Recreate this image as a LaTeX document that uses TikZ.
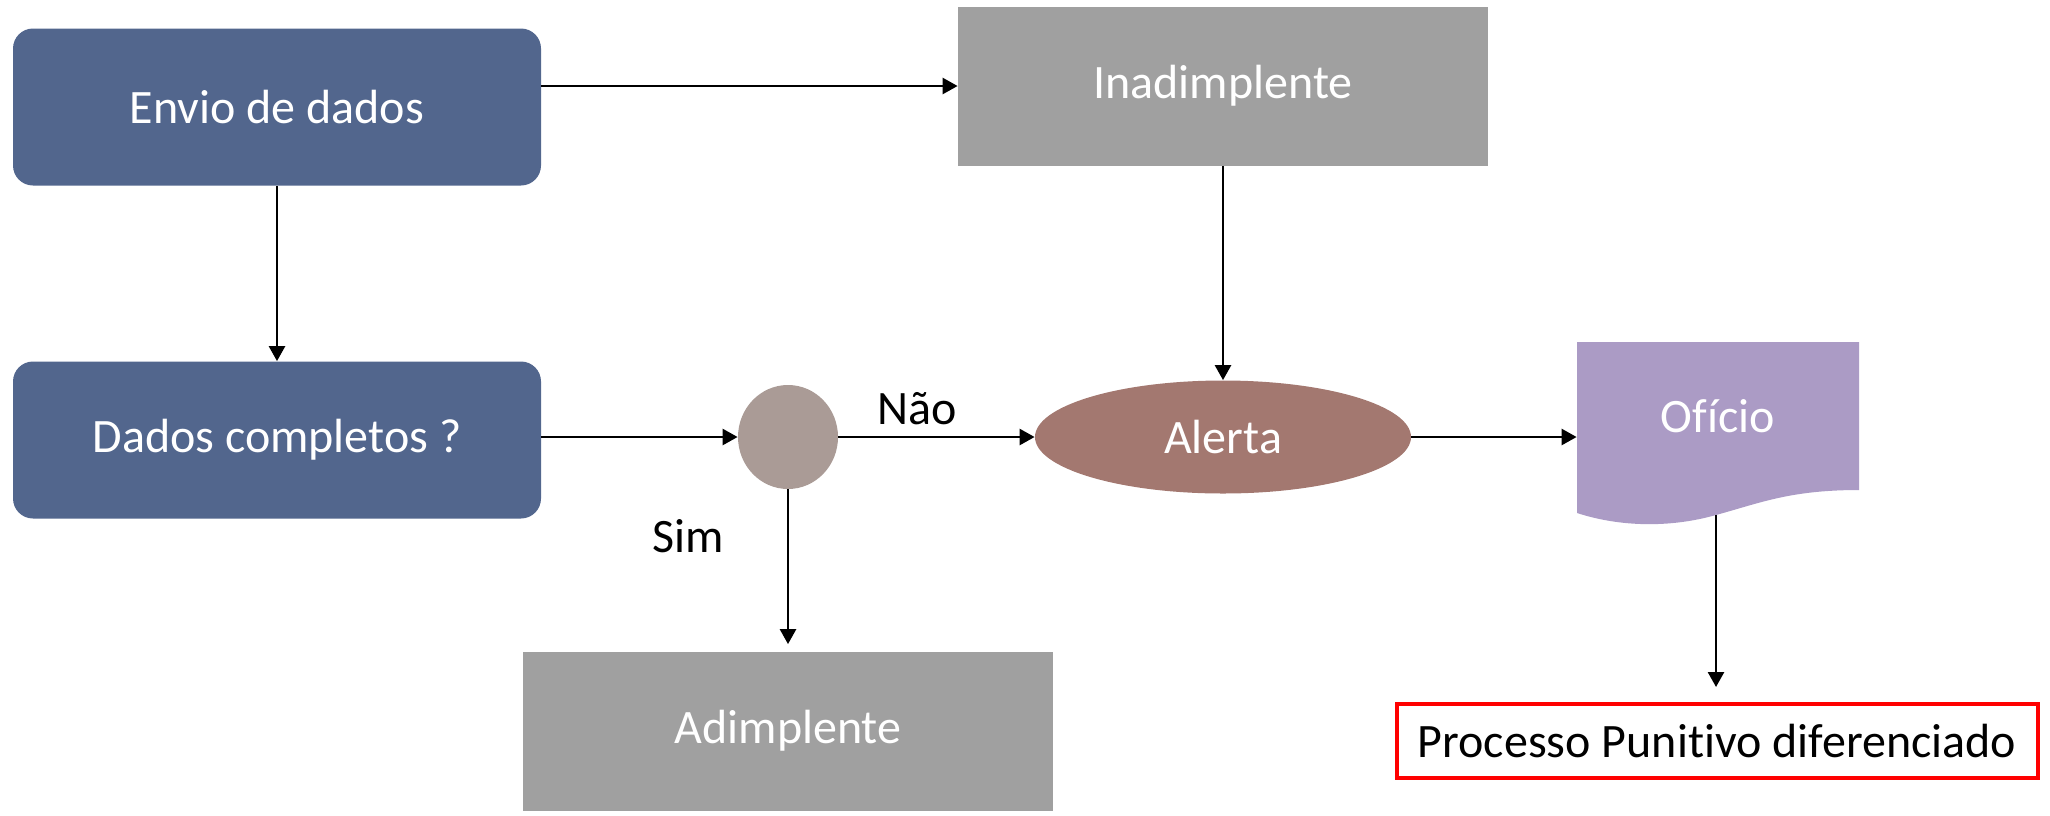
\documentclass[tikz,border=0pt]{standalone}
\usepackage{fontspec}
\setmainfont{Carlito}[Ligatures=NoCommon]
\usetikzlibrary{arrows.meta,positioning,shapes.geometric}
\definecolor{boxblue}{RGB}{82,102,141}
\definecolor{boxgray}{RGB}{160,160,160}
\definecolor{decgray}{RGB}{170,155,150}
\definecolor{alertred}{RGB}{163,120,112}
\definecolor{ofpurple}{RGB}{171,155,197}

\begin{document}
\begin{tikzpicture}[x=0.5pt,y=-0.5pt,
      font=\fontsize{24}{29}\selectfont,
      bluebox/.style={fill=boxblue,rounded corners=10pt,text=white,minimum width=264pt,minimum height=78.5pt},
      graybox/.style={fill=boxgray,text=white,minimum width=265pt,minimum height=79.5pt},
      flow/.style={->,line width=1.3pt},
      >={Triangle[length=7.5pt,width=8pt]}
    ]
      \useasboundingbox (0,0) rectangle (2050,815);
      \node[bluebox] (envio) at (277,107) {Envio de dados};
      \node[bluebox] (dados) at (277,440) {Dados completos ?};
      \node[graybox] (inad) at (1223,86) {Inadimplente};
      \node[graybox] (adim) at (788,731) {Adimplente};
      \node[ellipse,fill=decgray,minimum width=50pt,minimum height=52pt,inner sep=0pt] (dec) at (788,437) {};
      \node[ellipse,fill=alertred,text=white,minimum width=188pt,minimum height=56.5pt,inner sep=0pt] (alerta) at (1223,437) {Alerta};
      % documento
      \fill[ofpurple] (1577,342) -- (1859,342) -- (1859,490)
        .. controls (1790,490) and (1760,503) .. (1716,515)
        .. controls (1670,528) and (1620,527) .. (1577,513) -- cycle;
      \node[text=white,minimum width=141pt,minimum height=74pt,inner sep=0pt] (oficio) at (1718,416) {Ofício};
      \coordinate (ofbase) at (1716,515);
      \node[draw=red,line width=2pt,minimum width=320.5pt,minimum height=37pt] (proc) at (1717,741) {Processo Punitivo diferenciado};

      \draw[flow] (envio.east |- inad.west) -- (inad.west);
      \draw[flow] (envio) -- (dados);
      \draw[flow] (dados.east |- dec.west) -- (dec.west);
      \draw[flow] (dec) -- node[pos=.4,above=2pt]{Não} (alerta);
      \draw[flow,shorten >=3.5pt] (dec) -- node[pos=.29,left=28pt]{Sim} (adim);
      \draw[flow] (inad) -- (alerta);
      \draw[flow] (alerta.east) -- (alerta.east -| oficio.west);
      \draw[flow,shorten >=7.5pt] (ofbase) -- (ofbase |- proc.north);
    \end{tikzpicture}
\end{document}
